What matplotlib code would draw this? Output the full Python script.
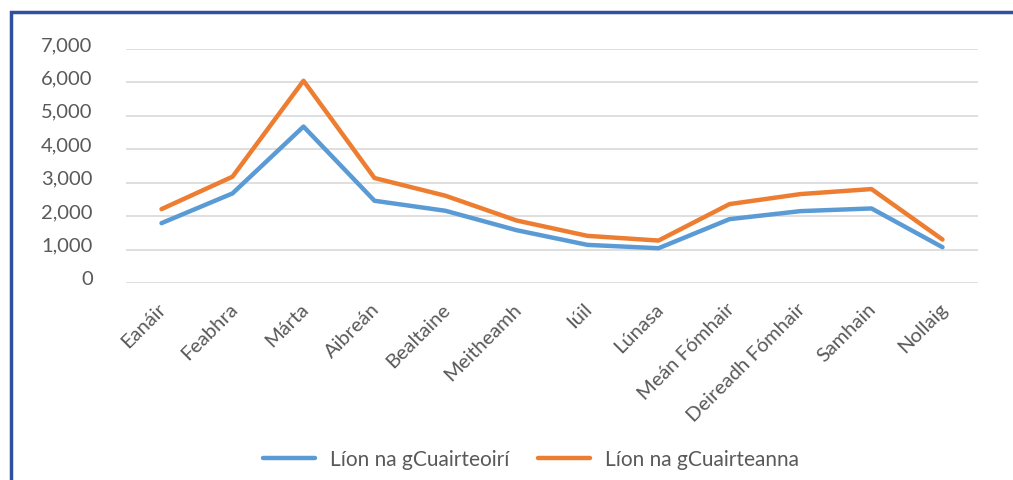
import matplotlib.pyplot as plt
import matplotlib.transforms as mtransforms
from matplotlib.patches import Rectangle
from matplotlib.ticker import FuncFormatter

plt.rcParams['font.family'] = ['Lato', 'DejaVu Sans']

# Míonna
miosa = ['Eanáir', 'Feabhra', 'Márta', 'Aibreán', 'Bealtaine', 'Meitheamh', 'Iúil',
         'Lúnasa', 'Meán Fómhair', 'Deireadh Fómhair', 'Samhain', 'Nollaig']

# Sraitheanna sonraí
cuairteoiri = [1790, 2680, 4680, 2460, 2160, 1580, 1140, 1040, 1910, 2150, 2230, 1070]
cuairteanna = [2210, 3180, 6050, 3140, 2610, 1870, 1410, 1270, 2360, 2660, 2810, 1300]

gorm = '#5B9BD5'
oraiste = '#ED7D31'
liath = '#595959'

fig = plt.figure(figsize=(10.13, 4.81), dpi=100)
ax = fig.add_axes([126 / 1013, 1 - 284 / 481, 852 / 1013, 234 / 481])

x = range(len(miosa))
ax.plot(x, cuairteoiri, color=gorm, lw=3.2, solid_capstyle='round', solid_joinstyle='round',
        label='Líon na gCuairteoirí')
ax.plot(x, cuairteanna, color=oraiste, lw=3.2, solid_capstyle='round', solid_joinstyle='round',
        label='Líon na gCuairteanna')

ax.set_xlim(-0.5, len(miosa) - 0.5)
ax.set_ylim(0, 7000)
ax.set_yticks(range(0, 7001, 1000))
ax.yaxis.set_major_formatter(FuncFormatter(lambda v, p: f'{int(v):,}'))
ax.grid(axis='y', color='#D9D9D9', lw=1.2)
ax.set_axisbelow(True)
for s in ax.spines.values():
    s.set_visible(False)
ax.tick_params(length=0, colors=liath, labelsize=14.5)
ax.tick_params(axis='y', pad=24)

# y labels sit a little above their gridlines
off = mtransforms.ScaledTranslation(0, 6 / 100, fig.dpi_scale_trans)
for lbl in ax.get_yticklabels():
    lbl.set_transform(lbl.get_transform() + off)

ax.set_xticks(list(x))
ax.set_xticklabels(miosa, rotation=45, ha='right', rotation_mode='anchor')
ax.tick_params(axis='x', pad=12)
offx = mtransforms.ScaledTranslation(-4 / 100, 0, fig.dpi_scale_trans)
for lbl in ax.get_xticklabels():
    lbl.set_transform(lbl.get_transform() + offx)

fig.legend(loc='center', bbox_to_anchor=(531 / 1013, 1 - 460 / 481), ncol=2, frameon=False,
           fontsize=15, labelcolor=liath, handlelength=2.5, columnspacing=1.4,
           handletextpad=0.7)

# imeall gorm
fig.add_artist(Rectangle((11 / 1013, -0.1), 1.2, 1.1 - 13 / 481, transform=fig.transFigure,
                         fill=False, edgecolor='#2F4F9F', lw=2.5))

fig.savefig('out.png', dpi=100)
